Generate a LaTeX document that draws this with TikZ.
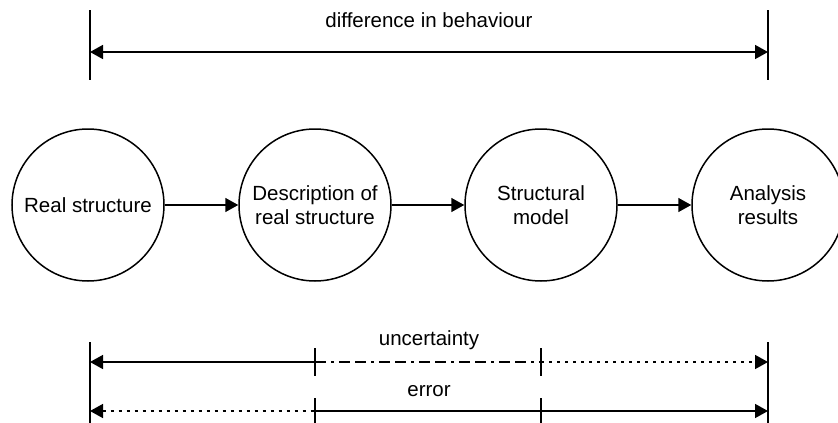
\documentclass[tikz,border=0pt]{standalone}
\usepackage{fontspec}
\setmainfont{Liberation Sans}
\usetikzlibrary{arrows.meta}
\begin{document}
\begin{tikzpicture}[x=1pt,y=1pt,
  Tri/.tip={Triangle[length=13pt,width=14pt]},
  every node/.style={font=\fontsize{20.5}{24.5}\selectfont},
  stage/.style={circle,draw,line width=1.5pt,minimum size=152pt,inner sep=0pt,align=center},
  flow/.style={line width=1.5pt,-Tri},
  dimline/.style={line width=1.5pt},
  dots/.style={dash pattern=on 3pt off 5pt},
  dashes/.style={dash pattern=on 11pt off 5pt on 3pt off 5pt on 11pt off 5pt}]
\useasboundingbox (0,0) rectangle (838,-423);
% stages
\node[stage] (c1) at (88,-205) {Real structure};
\node[stage] (c2) at (315,-205) {Description of\\real structure};
\node[stage] (c3) at (541,-205) {Structural\\model};
\node[stage] (c4) at (768,-205) {Analysis\\results};
\draw[flow] (c1) -- (c2);
\draw[flow] (c2) -- (c3);
\draw[flow] (c3) -- (c4);
% top dimension
\coordinate (ta) at (90,-10);
\coordinate (tb) at (90,-80);
\coordinate (tc) at (768,-10);
\coordinate (td) at (768,-80);
\draw[dimline] (ta) -- (tb);
\draw[dimline] (tc) -- (td);
\coordinate (tl) at (90,-52);
\coordinate (tr) at (768,-52);
\draw[dimline,Tri-Tri] (tl) -- (tr);
\node (tlab) at (429,-20) {difference in behaviour};
% bottom vertical lines
\coordinate (la) at (90,-342);
\coordinate (lb) at (90,-423);
\coordinate (ra) at (768,-342);
\coordinate (rb) at (768,-423);
\draw[dimline] (la) -- (lb);
\draw[dimline] (ra) -- (rb);
% ticks
\coordinate (m1a) at (315,-348);
\coordinate (m1b) at (315,-376);
\coordinate (m2a) at (541,-348);
\coordinate (m2b) at (541,-376);
\coordinate (n1a) at (315,-398);
\coordinate (n1b) at (315,-423);
\coordinate (n2a) at (541,-398);
\coordinate (n2b) at (541,-423);
\draw[dimline] (m1a) -- (m1b);
\draw[dimline] (m2a) -- (m2b);
\draw[dimline] (n1a) -- (n1b);
\draw[dimline] (n2a) -- (n2b);
% uncertainty
\coordinate (u0) at (90,-362);
\coordinate (u1) at (315,-362);
\coordinate (u2) at (541,-362);
\coordinate (u3) at (768,-362);
\draw[dimline,Tri-] (u0) -- (u1);
\draw[dimline,dashes] (u1) -- (u2);
\draw[dimline,dots,-Tri] (u2) -- (u3);
\node (ulab) at (429,-340) {uncertainty};
% error
\coordinate (e0) at (90,-411);
\coordinate (e1) at (315,-411);
\coordinate (e2) at (541,-411);
\coordinate (e3) at (768,-411);
\draw[dimline,dots,Tri-] (e0) -- (e1);
\draw[dimline] (e1) -- (e2);
\draw[dimline,-Tri] (e2) -- (e3);
\node (elab) at (429,-391) {error};
\end{tikzpicture}
\end{document}
